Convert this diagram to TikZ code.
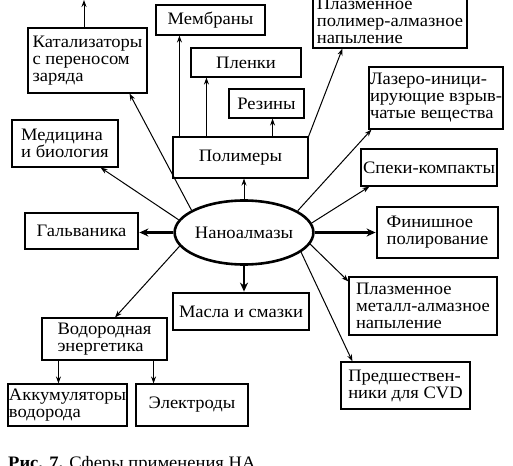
\documentclass[tikz,border=0pt]{standalone}
\usepackage{fontspec}
\setmainfont[FakeStretch=1.06]{Liberation Serif}
\usetikzlibrary{arrows.meta,calc,shapes.geometric}
\newcommand\diagfont{\fontsize{17.5}{17}\selectfont}
\begin{document}
\begin{tikzpicture}[x=1pt,y=-1pt,
  box/.style={draw,line width=1.1pt,inner sep=0pt,align=left,font=\diagfont},
  tbox/.style={box,line width=2.8pt},
  arr/.style={line width=1pt,-{Stealth[length=7pt,width=5pt]}},
  tarr/.style={line width=2.6pt,-{Stealth[length=9pt,width=8pt]}},
]
\useasboundingbox (0,0) rectangle (513,465);
\clip (0,0) rectangle (513,465);

\node[box,minimum width=119pt,minimum height=65pt] (kat) at (87.5,60.5) {Катализаторы\\с переносом\\заряда};
\node[box,minimum width=109pt,minimum height=30pt] (memb) at (210.5,20) {Мембраны};
\node[box,minimum width=110pt,minimum height=29pt] (plenki) at (246,62.5) {Пленки};
\node[box,minimum width=75pt,minimum height=29pt] (reziny) at (266.5,103.5) {Резины};
\node[box,minimum width=135pt,minimum height=41pt] (polim) at (240.5,157.5) {Полимеры};
\node[box,minimum width=154pt,minimum height=54pt] (pmpoly) at (390,21) {Плазменное\\полимер-алмазное\\напыление};
\node[box,minimum width=134pt,minimum height=62pt] (laser) at (436,98) {Лазеро-иници-\\ирующие взрыв-\\чатые вещества};
\node[box,minimum width=136pt,minimum height=37pt] (speki) at (429,167.5) {Спеки-компакты};
\node[tbox,minimum width=121pt,minimum height=51pt] (finish) at (437.5,232.5) {Финишное\\полирование};
\node[box,minimum width=148pt,minimum height=58pt] (pmmetal) at (423,306) {Плазменное\\металл-алмазное\\напыление};
\node[box,minimum width=129pt,minimum height=47pt] (cvd) at (405.5,385.5) {Предшествен-\\ники для CVD};
\node[tbox,minimum width=136pt,minimum height=37pt] (masla) at (241,311.5) {Масла и смазки};
\node[draw,ellipse,line width=2.6pt,minimum width=112pt,minimum height=64pt,inner sep=0pt,font=\diagfont] (ell) at (244,232.5) {Наноалмазы};
\node[tbox,minimum width=113pt,minimum height=36pt] (galv) at (81.5,231) {Гальваника};
\node[box,minimum width=106pt,minimum height=47pt] (med) at (65,143.5) {Медицина\\и биология};
\node[box,minimum width=125pt,minimum height=42pt] (vodor) at (104.5,339) {Водородная\\энергетика};
\node[box,minimum width=119pt,minimum height=42pt] (akk) at (67.5,405) {Аккумуляторы\\водорода};
\node[box,minimum width=112pt,minimum height=42pt] (elektr) at (192,405) {Электроды};
\node[anchor=base west,font=\diagfont,inner sep=0pt] (cap) at (8,468) {\textbf{Рис. 7.} Сферы применения НА};

\coordinate (ktop) at (84,0);

\draw[arr] (ktop |- kat.north) -- (ktop);
\draw[arr] (ell.157) -- ([xshift=42pt]kat.south);
\draw[arr] (ell.169) -- ([xshift=-18pt]med.south east);
\draw[tarr] (ell.west) -- (ell.west -| galv.east);
\draw[arr] (ell.192) -- ([xshift=10.5pt]vodor.north);
\draw[arr] (ell.north) -- (ell.north |- polim.south);
\draw[tarr] (ell.south) -- (ell.south |- masla.north);
\draw[arr] (ell.22) -- ([xshift=3pt]laser.south west);
\draw[arr] (ell.8) -- ([xshift=9pt]speki.south west);
\draw[tarr] (ell.east) -- (ell.east -| finish.west);
\draw[arr] (ell.-10) -- ([yshift=-5pt]pmmetal.north west);
\draw[arr] (ell.-19) -- ([xshift=12pt]cvd.north west);

\draw[arr] ([xshift=7pt]polim.north west) -- ([xshift=7pt]polim.north west |- memb.south);
\draw[arr] ([xshift=34pt]polim.north west) -- ([xshift=34pt]polim.north west |- plenki.south);
\draw[arr] ([xshift=-36pt]polim.north east) -- ([xshift=-36pt]polim.north east |- reziny.south);
\draw[arr] (polim.north east) -- ([xshift=30pt]pmpoly.south west);

\draw[arr] ([xshift=17pt]vodor.south west) -- ([xshift=17pt]vodor.south west |- akk.north);
\draw[arr] ([xshift=-14pt]vodor.south east) -- ([xshift=-14pt]vodor.south east |- elektr.north);
\end{tikzpicture}
\end{document}
